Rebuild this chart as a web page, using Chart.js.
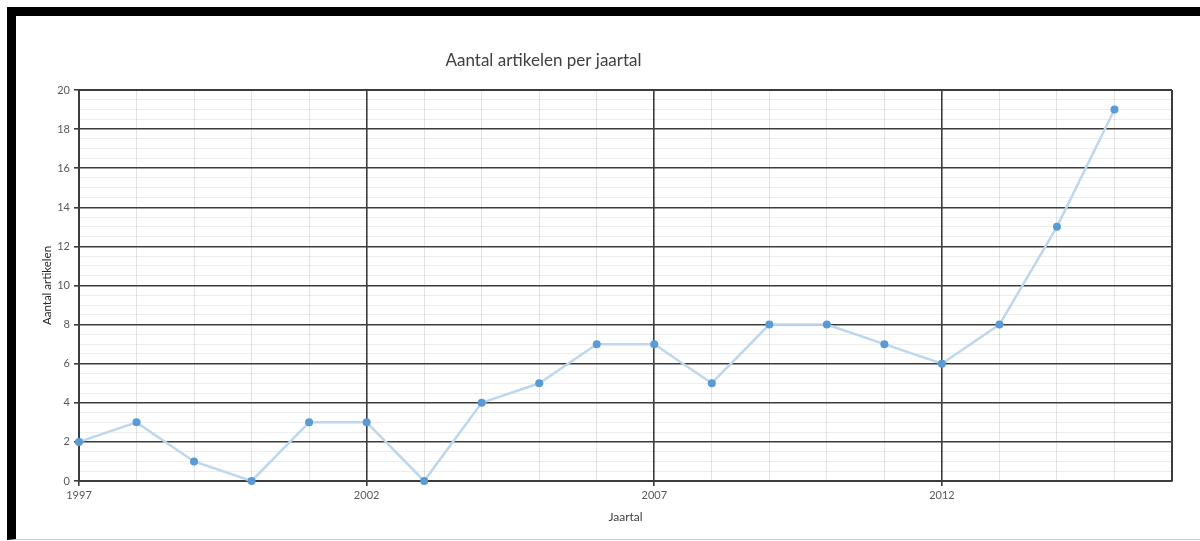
<!DOCTYPE html>
<html>
<head>
<meta charset="utf-8">
<script src="https://cdn.jsdelivr.net/npm/chart.js@4.4.0/dist/chart.umd.min.js"></script>
<style>
  html, body { margin: 0; padding: 0; background: #fff; }
  #wrap { position: relative; width: 1200px; height: 541px; overflow: hidden; }
  #frame {
    position: absolute; left: 7px; top: 7px; width: 1193px; height: 533px;
    box-sizing: border-box; border-top: 9px solid #000; border-left: 9px solid #000;
    border-bottom: 1px solid #d0d0d0; pointer-events: none;
  }
  canvas { position: absolute; left: 0; top: 0; }
</style>
</head>
<body>
<div id="wrap">
  <canvas id="myChart" width="1200" height="541"></canvas>
  <div id="frame"></div>
</div>
<script>
var years = [1997, 1998, 1999, 2000, 2001, 2002, 2003, 2004, 2005, 2006, 2007, 2008, 2009, 2010, 2011, 2012, 2013, 2014, 2015];
var articles = [2, 3, 1, 0, 3, 3, 0, 4, 5, 7, 7, 5, 8, 8, 7, 6, 8, 13, 19];
var xLabels = [1997, 2002, 2007, 2012];
var yLabels = [0, 2, 4, 6, 8, 10, 12, 14, 16, 18, 20];

var chartTitle = 'Aantal artikelen per jaartal';
var fontFamily = 'Lato, "Open Sans", sans-serif';

var points = [];
for (var i = 0; i < years.length; i++) {
  points.push({ x: years[i], y: articles[i] });
}

var majorColor = '#3c3c3c';

function isXMajor(v) { return xLabels.indexOf(v) !== -1; }
function isYMajor(v) { return yLabels.indexOf(v) !== -1; }

// title sits left of the plot centre in the original
var titlePlugin = {
  id: 'offTitle',
  afterDraw: function(chart) {
    var c = chart.ctx;
    var a = chart.chartArea;
    c.save();
    c.font = '17px ' + fontFamily;
    c.fillStyle = '#404040';
    c.textAlign = 'center';
    c.textBaseline = 'middle';
    c.fillText(chartTitle, a.left + (a.right - a.left) * 0.425, 61);
    c.restore();
  }
};

var ctx = document.getElementById('myChart').getContext('2d');
var myChart = new Chart(ctx, {
  type: 'line',
  data: {
    datasets: [{
      label: 'Aantal artikelen',
      data: points,
      borderColor: '#bdd7ee',
      borderWidth: 2.5,
      pointBackgroundColor: '#5b9bd5',
      pointBorderWidth: 0,
      pointRadius: 4,
      tension: 0,
      clip: false
    }]
  },
  options: {
    responsive: false,
    animation: false,
    layout: { padding: { left: 30, top: 90, right: 28, bottom: 17 } },
    plugins: {
      legend: { display: false },
      tooltip: { enabled: false },
      title: { display: false }
    },
    scales: {
      x: {
        type: 'linear',
        min: 1997,
        max: 2016,
        afterFit: function(s) { s.height = 43; },
        border: { display: true, color: majorColor, width: 2 },
        grid: {
          drawOnChartArea: true,
          tickLength: 5,
          color: function(c) { return isXMajor(c.tick.value) ? majorColor : 'rgba(0,0,0,0.11)'; },
          lineWidth: function(c) { return isXMajor(c.tick.value) ? 1.6 : 1; },
          tickColor: function(c) { return isXMajor(c.tick.value) ? majorColor : 'rgba(0,0,0,0)'; }
        },
        ticks: {
          stepSize: 1,
          autoSkip: false,
          maxRotation: 0,
          padding: 3,
          color: '#595959',
          font: { family: fontFamily, size: 11 },
          callback: function(v) { return isXMajor(v) ? String(v) : ''; }
        },
        title: {
          display: true,
          text: 'Jaartal',
          color: '#404040',
          padding: { top: 0, bottom: 0 },
          font: { family: fontFamily, size: 12 }
        }
      },
      y: {
        min: 0,
        max: 20,
        afterFit: function(s) { s.width = 49; },
        border: { display: true, color: majorColor, width: 2 },
        grid: {
          tickLength: 5,
          color: function(c) { return isYMajor(c.tick.value) ? majorColor : 'rgba(0,0,0,0.07)'; },
          lineWidth: function(c) { return isYMajor(c.tick.value) ? 1.6 : 1; },
          tickColor: function(c) { return isYMajor(c.tick.value) ? majorColor : 'rgba(0,0,0,0)'; }
        },
        ticks: {
          stepSize: 0.5,
          autoSkip: false,
          padding: 4,
          color: '#595959',
          font: { family: fontFamily, size: 11 },
          callback: function(v) { return isYMajor(v) ? String(v) : ''; }
        },
        title: {
          display: true,
          text: 'Aantal artikelen',
          color: '#262626',
          padding: { top: 10, bottom: 0 },
          font: { family: fontFamily, size: 11.5 }
        }
      }
    }
  },
  plugins: [titlePlugin, {
    id: 'rightBorder',
    afterDraw: function(chart) {
      var c = chart.ctx, a = chart.chartArea;
      c.save();
      c.strokeStyle = majorColor;
      c.lineWidth = 2;
      c.beginPath();
      c.moveTo(a.right, a.top);
      c.lineTo(a.right, a.bottom);
      c.moveTo(a.left, a.top);
      c.lineTo(a.right, a.top);
      c.stroke();
      c.restore();
    }
  }]
});
</script>
</body>
</html>
